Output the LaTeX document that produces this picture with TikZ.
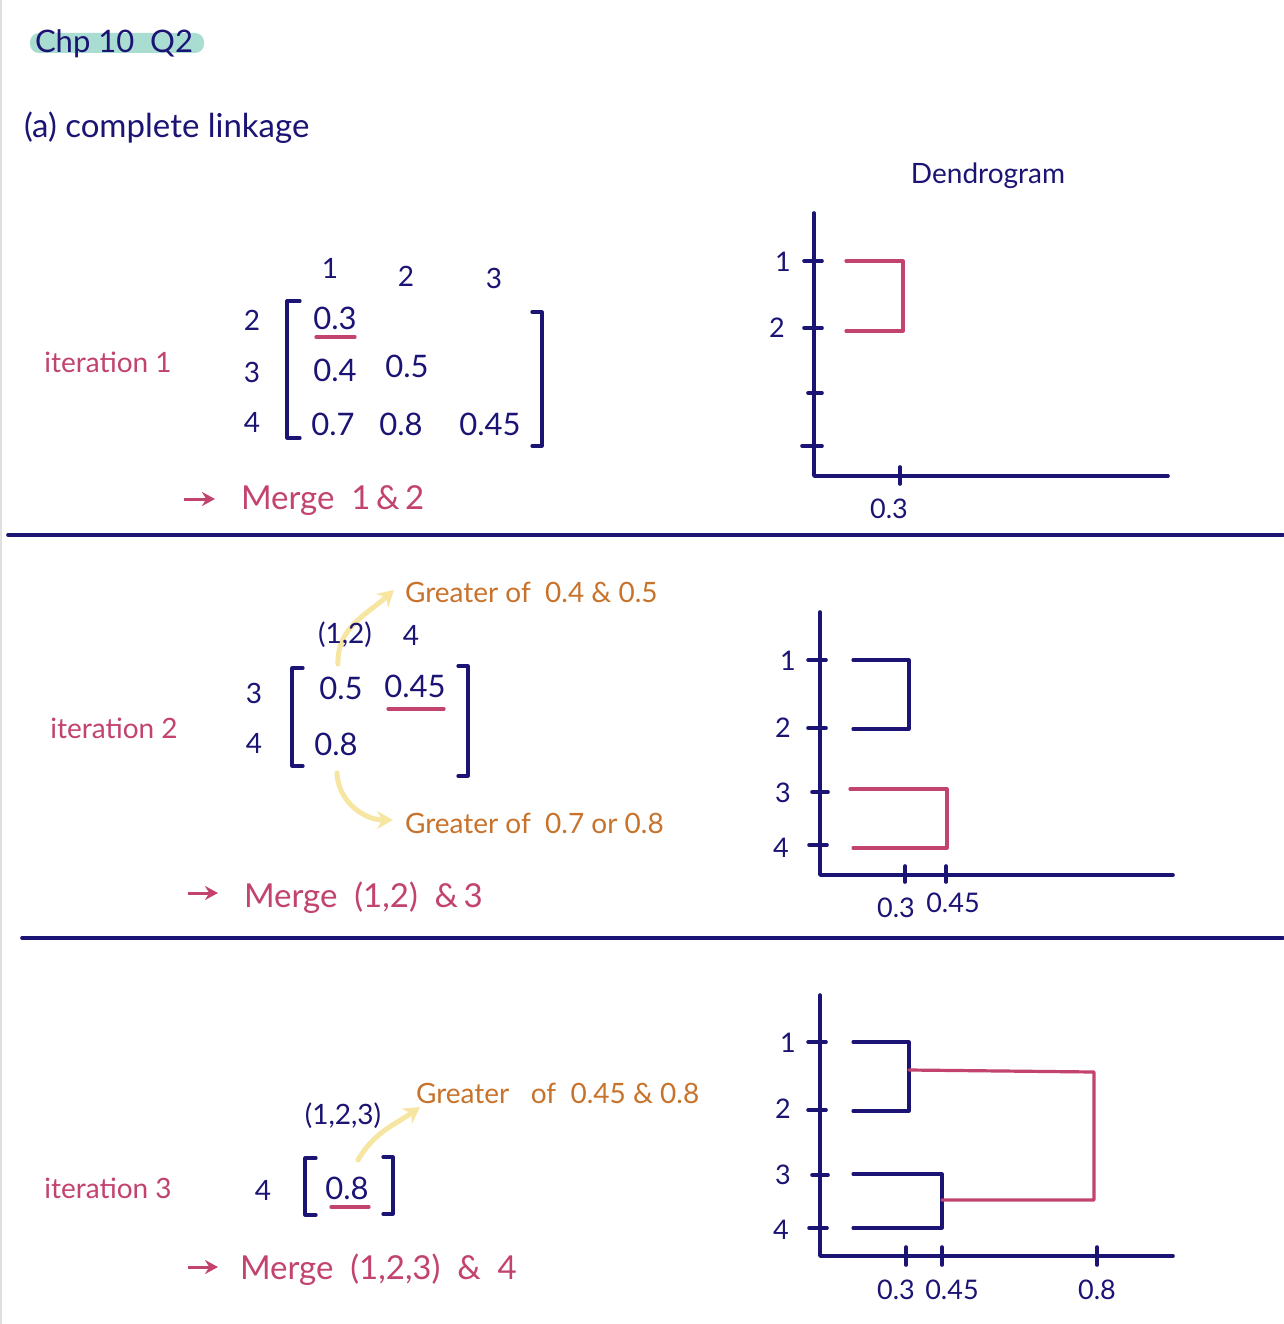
\documentclass[tikz,border=0pt]{standalone}
\usepackage{fontspec}
\setmainfont{Lato}
\usetikzlibrary{arrows.meta}
\pgfdeclarelayer{bg}
\pgfsetlayers{bg,main}
\definecolor{navy}{HTML}{1B1474}
\definecolor{pinkc}{HTML}{C2436D}
\definecolor{orangec}{HTML}{C8732C}
\definecolor{yellowc}{HTML}{F6E6A2}
\definecolor{tealc}{HTML}{A9DDD2}
\tikzset{
  base/.style={inner sep=0pt, outer sep=0pt, anchor=center},
  nv/.style={base, text=navy},
  pk/.style={base, text=pinkc},
  og/.style={base, text=orangec},
  fbig/.style={font=\fontsize{33}{38}\selectfont},
  fmat/.style={font=\fontsize{31}{36}\selectfont},
  fmed/.style={font=\fontsize{28}{33}\selectfont},
  fsm/.style={font=\fontsize{27}{31}\selectfont},
  axisline/.style={draw=navy, line width=3.6pt, line cap=round, line join=round},
  nvline/.style={draw=navy, line width=3.2pt, line cap=round, line join=round},
  pkline/.style={draw=pinkc, line width=3.2pt, line cap=round, line join=round},
  yarrow/.style={draw=yellowc, line width=5pt, line cap=round, -{Stealth[length=16pt,width=18pt]}},
  pkarrow/.style={draw=pinkc, line width=3pt, -{Stealth[length=13pt,width=14pt]}},
}
\begin{document}
\begin{tikzpicture}[x=1pt,y=-1pt]
\useasboundingbox (0,0) rectangle (1283,1324);
\begin{pgfonlayer}{bg}
\fill[white] (0,0) rectangle (1283,1324);
\end{pgfonlayer}
\draw[gray!25, line width=1.5pt] (1,0) -- (1,1324);

% title
\fill[tealc, rounded corners=9pt] (30,33) rectangle (204,53);
\node[nv, font=\fontsize{31}{36}\selectfont] (title) at (114,44) {Chp 10\ \ Q2};
\node[nv, fbig, anchor=west] (sub) at (24,128) {(a) complete linkage};
\node[nv, fmed] (dendro) at (988,176) {Dendrogram};

% ---------------- iteration 1 ----------------
\node[pk, fmed] (it1) at (108,362) {iteration 1};
\node[nv, fmed] (c1) at (330,268) {1};
\node[nv, fmed] (c2) at (406,276) {2};
\node[nv, fmed] (c3) at (494,278) {3};
\node[nv, fmed] (r2) at (252,320) {2};
\node[nv, fmed] (r3) at (252,372) {3};
\node[nv, fmed] (r4) at (252,422) {4};
\node[nv, fmat] (e21) at (335,318) {0.3};
\node[nv, fmat] (e31) at (335,370) {0.4};
\node[nv, fmat] (e32) at (407,366) {0.5};
\node[nv, fmat] (e41) at (333,424) {0.7};
\node[nv, fmat] (e42) at (401,424) {0.8};
\node[nv, fmat] (e43) at (490,424) {0.45};
\draw[nvline] (300,301) -- (287,301) -- (287,438) -- (300,438);
\draw[nvline] (532,312) -- (542,312) -- (542,446) -- (532,446);
\draw[pkline] (316,337) -- (355,337);
\node[pk, fbig, anchor=west] (m1) at (241,501) {Merge\ \ 1\,\&\,2};
\coordinate (a1s) at (184,499);
\coordinate (a1e) at (215,499);
\draw[pkarrow] (a1s) -- (a1e);

\draw[axisline] (8,535) -- (1283,535);

% dendrogram 1
\draw[axisline] (814,213) -- (814,476) -- (1168,476);
\draw[axisline] (804,261) -- (822,261);
\draw[axisline] (804,328) -- (822,328);
\draw[axisline] (808,393) -- (822,393);
\draw[axisline] (802,446) -- (822,446);
\draw[axisline] (900,467) -- (900,484);
\node[nv, fsm] (d1l1) at (783,262) {1};
\node[nv, fsm] (d1l2) at (777,328) {2};
\node[nv, fsm] (d1x1) at (889,509) {0.3};
\draw[pkline] (846,261) -- (903,261) -- (903,331) -- (846,331);

% ---------------- iteration 2 ----------------
\node[pk, fmed] (it2) at (114,728) {iteration 2};
\node[og, fmed, anchor=west] (g1) at (405,592) {Greater of\ \ 0.4 \& 0.5};
\node[nv, fmed] (h12) at (345,635) {(1,2)};
\node[nv, fmed] (h4) at (411,635) {4};
\node[nv, fmed] (s3) at (254,693) {3};
\node[nv, fmed] (s4) at (254,743) {4};
\node[nv, fmat] (f31) at (341,688) {0.5};
\node[nv, fmat] (f34) at (415,686) {0.45};
\node[nv, fmat] (f41) at (336,744) {0.8};
\draw[nvline] (303,668) -- (292,668) -- (292,766) -- (303,766);
\draw[nvline] (458,666) -- (468,666) -- (468,776) -- (458,776);
\draw[pkline] (388,709) -- (444,709);
\node[og, fmed, anchor=west] (g2) at (405,823) {Greater of\ \ 0.7 or\ 0.8};
\coordinate (y1s) at (338,664);
\coordinate (y2s) at (337,773);
\begin{pgfonlayer}{bg}
\draw[yarrow] (y1s) to[out=92, in=222] ([xshift=-11pt,yshift=2pt]g1.west);
\draw[yarrow] (y2s) to[out=272, in=180] ([xshift=-12pt,yshift=3pt]g2.west);
\end{pgfonlayer}
\node[pk, fbig, anchor=west] (m2) at (244,898) {Merge\ \ (1,2)\ \ \&\,3};
\coordinate (a2s) at (188,893);
\coordinate (a2e) at (218,893);
\draw[pkarrow] (a2s) -- (a2e);

\draw[axisline] (22,938) -- (1283,938);

% dendrogram 2
\draw[axisline] (820,612) -- (820,875) -- (1173,875);
\draw[axisline] (808,660) -- (826,660);
\draw[axisline] (808,728) -- (826,728);
\draw[axisline] (812,792) -- (828,792);
\draw[axisline] (809,845) -- (827,845);
\draw[axisline] (905,866) -- (905,882);
\draw[axisline] (946,866) -- (946,882);
\node[nv, fsm] (d2l1) at (788,661) {1};
\node[nv, fsm] (d2l2) at (783,728) {2};
\node[nv, fsm] (d2l3) at (783,793) {3};
\node[nv, fsm] (d2l4) at (781,848) {4};
\node[nv, fsm] (d2x1) at (896,908) {0.3};
\node[nv, fsm] (d2x2) at (953,903) {0.45};
\draw[nvline] (853,660) -- (909,660) -- (909,729) -- (853,729);
\draw[pkline] (850,789) -- (947,789) -- (947,848) -- (853,848);

% ---------------- iteration 3 ----------------
\node[pk, fmed] (it3) at (108,1188) {iteration 3};
\node[nv, fmed] (h123) at (343,1116) {(1,2,3)};
\node[og, fmed, anchor=west] (g3) at (416,1093) {Greater\ \ \ of\ \ 0.45 \& 0.8};
\node[nv, fmed] (t4) at (263,1190) {4};
\node[nv, fmat] (u41) at (347,1188) {0.8};
\draw[nvline] (316,1158) -- (305,1158) -- (305,1215) -- (316,1215);
\draw[nvline] (383,1157) -- (393,1157) -- (393,1214) -- (383,1214);
\draw[pkline] (331,1207) -- (369,1207);
\coordinate (y3s) at (358,1160);
\begin{pgfonlayer}{bg}
\draw[yarrow] (y3s) to[out=60, in=215] ([xshift=4pt,yshift=-14pt]g3.west);
\end{pgfonlayer}
\node[pk, fbig, anchor=west] (m3) at (240,1270) {Merge\ \ (1,2,3)\ \ \&\ \ 4};
\coordinate (a3s) at (188,1267);
\coordinate (a3e) at (218,1267);
\draw[pkarrow] (a3s) -- (a3e);

% dendrogram 3
\draw[axisline] (820,995) -- (820,1256) -- (1173,1256);
\draw[axisline] (808,1042) -- (826,1042);
\draw[axisline] (808,1110) -- (826,1110);
\draw[axisline] (812,1175) -- (828,1175);
\draw[axisline] (809,1228) -- (827,1228);
\draw[axisline] (906,1247) -- (906,1265);
\draw[axisline] (942,1247) -- (942,1265);
\draw[axisline] (1097,1247) -- (1097,1265);
\node[nv, fsm] (d3l1) at (788,1043) {1};
\node[nv, fsm] (d3l2) at (783,1109) {2};
\node[nv, fsm] (d3l3) at (783,1175) {3};
\node[nv, fsm] (d3l4) at (781,1230) {4};
\node[nv, fsm] (d3x1) at (896,1290) {0.3};
\node[nv, fsm] (d3x2) at (952,1290) {0.45};
\node[nv, fsm] (d3x3) at (1097,1290) {0.8};
\coordinate (n12) at (909,1070);
\coordinate (n34) at (942,1200);
\draw[nvline] (853,1042) -- (909,1042) -- (909,1111) -- (853,1111);
\draw[nvline] (853,1174) -- (942,1174) -- (942,1228) -- (853,1228);
\draw[pkline] (n12) -- (1094,1072) -- (1094,1200) -- (n34);
\end{tikzpicture}
\end{document}
